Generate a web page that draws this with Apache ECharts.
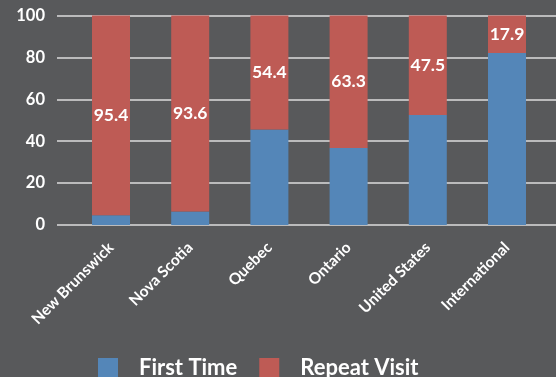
<!DOCTYPE html>
<html>
<head>
<meta charset="utf-8">
<script src="https://cdn.jsdelivr.net/npm/echarts@6/dist/echarts.min.js"></script>
<style>
html,body{margin:0;padding:0;background:#58595b;}
#chart{width:556px;height:377px;}
</style>
</head>
<body>
<div id="chart"></div>
<script>
const categories = ['New Brunswick', 'Nova Scotia', 'Quebec', 'Ontario', 'United States', 'International'];
const firstTime = [4.6, 6.4, 45.6, 36.7, 52.5, 82.1];
const repeatVisit = [95.4, 93.6, 54.4, 63.3, 47.5, 17.9];
const yTicks = [0, 20, 40, 60, 80, 100];

const FONT = 'Lato';
const chart = echarts.init(document.getElementById('chart'), null, {renderer: 'canvas'});
chart.setOption({
  backgroundColor: '#58595b',
  animation: false,
  grid: [
    {left: 57, right: 0, top: 15.5, bottom: 152},
    {left: 71.4, right: 9.4, top: 15.5, bottom: 152}
  ],
  xAxis: [
    {gridIndex: 0, type: 'value', min: 0, max: 1, show: false},
    {gridIndex: 1, type: 'category', data: categories,
     axisLine: {show: false}, axisTick: {show: false},
     axisLabel: {rotate: 45, interval: 0, margin: 20, color: '#ffffff',
       fontFamily: FONT, fontWeight: 'bold', fontSize: 15.5}}
  ],
  yAxis: [
    {gridIndex: 0, type: 'value', min: yTicks[0], max: yTicks[yTicks.length - 1], interval: 20,
     axisLine: {show: false}, axisTick: {show: false},
     splitLine: {show: true, lineStyle: {color: '#dcdcdc', width: 1.5}},
     axisLabel: {color: '#ffffff', fontFamily: FONT, fontWeight: 'bold', fontSize: 16.5, margin: 12}},
    {gridIndex: 1, type: 'value', min: 0, max: 100, show: false}
  ],
  legend: {
    left: 93, top: 352,
    itemWidth: 20, itemHeight: 20, itemGap: 22,
    icon: 'rect',
    textStyle: {color: '#ffffff', fontFamily: FONT, fontWeight: 'bold', fontSize: 22, padding: [0, 0, 0, 16]},
    data: ['First Time', 'Repeat Visit']
  },
  series: [
    {name: 'First Time', type: 'bar', stack: 'total', xAxisIndex: 1, yAxisIndex: 1,
     barWidth: 38, data: firstTime, itemStyle: {color: '#5486b8'}},
    {name: 'Repeat Visit', type: 'bar', stack: 'total', xAxisIndex: 1, yAxisIndex: 1,
     barWidth: 38, data: repeatVisit, itemStyle: {color: '#be5b55'},
     label: {show: true, position: 'inside', color: '#ffffff', fontFamily: FONT,
       fontWeight: 'bold', fontSize: 17.5, formatter: p => p.value.toFixed(1)}}
  ]
});
</script>
</body>
</html>
